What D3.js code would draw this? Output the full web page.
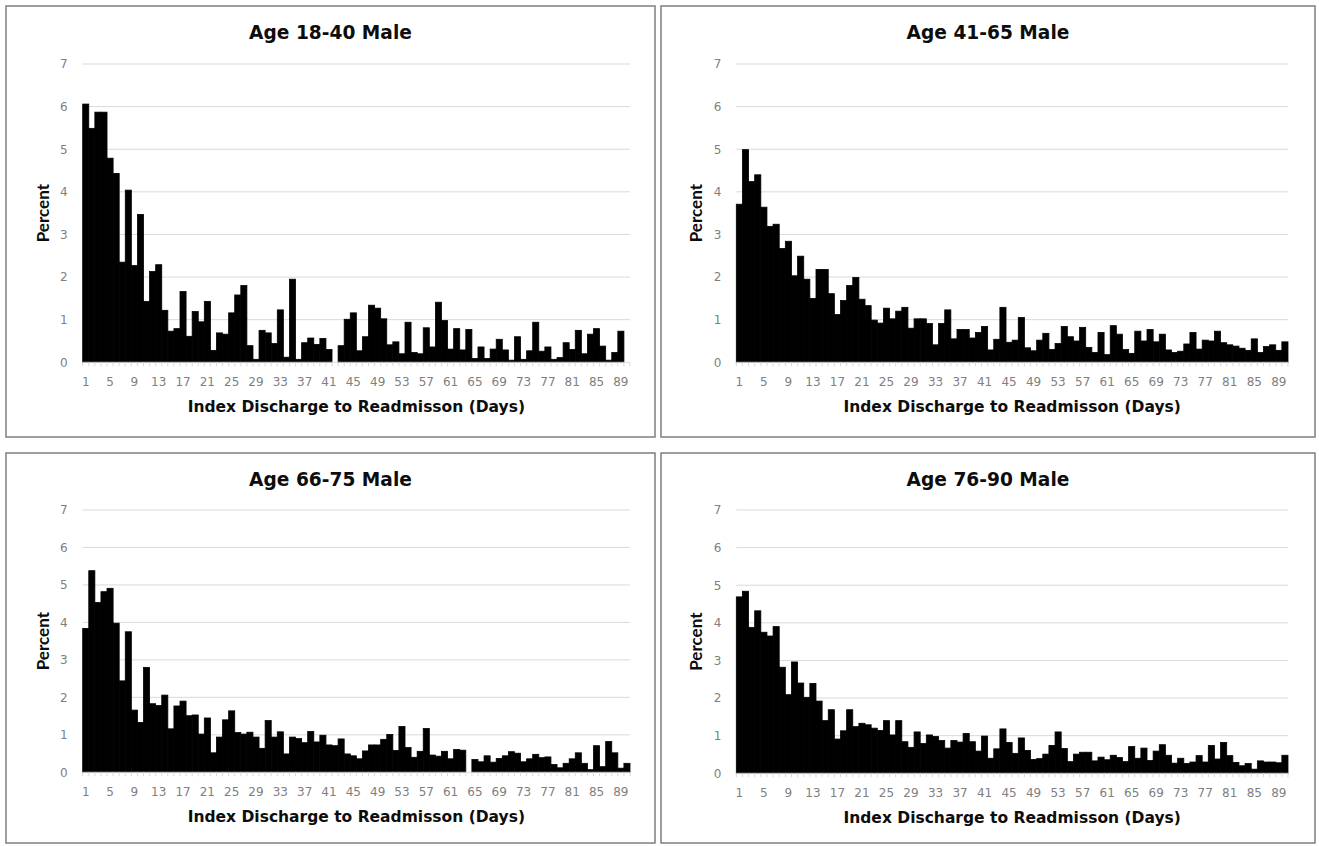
<!DOCTYPE html>
<html>
<head>
<meta charset="utf-8">
<script src="https://cdn.jsdelivr.net/npm/d3@7"></script>
<style>
  body { margin: 0; background: #fff; }
  svg { display: block; font-family: "DejaVu Sans", sans-serif; }
</style>
</head>
<body>
<svg id="chart" width="1319" height="846"></svg>
<script>
// days since index discharge (x categories)
const days = [
  1, 2, 3, 4, 5, 6, 7, 8, 9, 10, 11, 12, 13, 14, 15, 16, 17, 18, 19, 20,
  21, 22, 23, 24, 25, 26, 27, 28, 29, 30, 31, 32, 33, 34, 35, 36, 37, 38, 39, 40,
  41, 42, 43, 44, 45, 46, 47, 48, 49, 50, 51, 52, 53, 54, 55, 56, 57, 58, 59, 60,
  61, 62, 63, 64, 65, 66, 67, 68, 69, 70, 71, 72, 73, 74, 75, 76, 77, 78, 79, 80,
  81, 82, 83, 84, 85, 86, 87, 88, 89, 90
];
const dayLabels = [1, 5, 9, 13, 17, 21, 25, 29, 33, 37, 41, 45, 49, 53, 57, 61, 65, 69, 73, 77, 81, 85, 89];
const percentTicks = [0, 1, 2, 3, 4, 5, 6, 7];

const titles = ["Age 18-40 Male", "Age 41-65 Male", "Age 66-75 Male", "Age 76-90 Male"];

// percent of readmissions per day
const male18to40 = [
  6.06, 5.49, 5.87, 5.87, 4.79, 4.43, 2.35, 4.04, 2.27, 3.47,
  1.43, 2.13, 2.29, 1.22, 0.73, 0.79, 1.66, 0.61, 1.19, 0.95,
  1.43, 0.28, 0.69, 0.66, 1.16, 1.58, 1.80, 0.39, 0.07, 0.75,
  0.69, 0.44, 1.23, 0.12, 1.95, 0.07, 0.46, 0.57, 0.42, 0.56,
  0.30, 0, 0.39, 1.01, 1.16, 0.27, 0.60, 1.34, 1.27, 1.02,
  0.41, 0.48, 0.20, 0.94, 0.23, 0.20, 0.81, 0.36, 1.41, 0.98,
  0.31, 0.79, 0.29, 0.77, 0.09, 0.36, 0.09, 0.31, 0.54, 0.29,
  0.05, 0.60, 0.07, 0.27, 0.94, 0.26, 0.36, 0.07, 0.11, 0.46,
  0.30, 0.75, 0.20, 0.66, 0.79, 0.38, 0.05, 0.23, 0.73, 0
];
const male41to65 = [
  3.71, 4.99, 4.24, 4.40, 3.64, 3.19, 3.24, 2.67, 2.84, 2.03,
  2.49, 1.95, 1.50, 2.18, 2.18, 1.61, 1.12, 1.45, 1.80, 1.99,
  1.48, 1.33, 0.99, 0.92, 1.27, 1.02, 1.20, 1.29, 0.80, 1.02,
  1.02, 0.91, 0.41, 0.91, 1.23, 0.55, 0.77, 0.77, 0.57, 0.70,
  0.84, 0.29, 0.54, 1.29, 0.47, 0.52, 1.05, 0.34, 0.27, 0.52,
  0.68, 0.30, 0.44, 0.84, 0.60, 0.50, 0.82, 0.35, 0.23, 0.70,
  0.18, 0.86, 0.66, 0.30, 0.21, 0.73, 0.50, 0.77, 0.48, 0.66,
  0.29, 0.23, 0.26, 0.43, 0.70, 0.31, 0.52, 0.50, 0.73, 0.46,
  0.41, 0.38, 0.33, 0.28, 0.55, 0.23, 0.37, 0.41, 0.28, 0.48
];
const male66to75 = [
  3.84, 5.38, 4.53, 4.82, 4.91, 3.98, 2.44, 3.75, 1.66, 1.33,
  2.80, 1.83, 1.78, 2.06, 1.16, 1.77, 1.90, 1.51, 1.53, 1.02,
  1.45, 0.52, 0.94, 1.40, 1.64, 1.06, 1.02, 1.07, 0.94, 0.64,
  1.38, 0.94, 1.08, 0.49, 0.94, 0.90, 0.79, 1.09, 0.81, 0.99,
  0.73, 0.71, 0.89, 0.49, 0.44, 0.36, 0.57, 0.73, 0.73, 0.88,
  1.01, 0.58, 1.22, 0.66, 0.40, 0.56, 1.17, 0.46, 0.43, 0.56,
  0.36, 0.61, 0.59, 0, 0.34, 0.28, 0.44, 0.27, 0.37, 0.44,
  0.55, 0.51, 0.28, 0.36, 0.48, 0.39, 0.41, 0.21, 0.12, 0.24,
  0.36, 0.52, 0.24, 0.07, 0.71, 0.15, 0.82, 0.52, 0.11, 0.24
];
const male76to90 = [
  4.69, 4.84, 3.88, 4.32, 3.75, 3.65, 3.90, 2.82, 2.09, 2.96,
  2.40, 2.02, 2.39, 1.92, 1.40, 1.69, 0.91, 1.13, 1.69, 1.24,
  1.33, 1.29, 1.20, 1.14, 1.40, 1.02, 1.40, 0.84, 0.69, 1.10,
  0.79, 1.02, 0.98, 0.87, 0.67, 0.87, 0.83, 1.06, 0.84, 0.59,
  0.99, 0.40, 0.65, 1.18, 0.82, 0.53, 0.94, 0.61, 0.37, 0.39,
  0.51, 0.74, 1.10, 0.66, 0.31, 0.51, 0.56, 0.56, 0.33, 0.43,
  0.36, 0.48, 0.42, 0.31, 0.71, 0.40, 0.67, 0.34, 0.59, 0.76,
  0.48, 0.27, 0.40, 0.26, 0.30, 0.47, 0.30, 0.74, 0.38, 0.82,
  0.47, 0.29, 0.20, 0.26, 0.11, 0.33, 0.30, 0.30, 0.28, 0.48
];

const series = [male18to40, male41to65, male66to75, male76to90];

// panel frames and plot areas (page pixels)
const panels = [
  { box: [6, 6, 649, 431],     plot: [82.7, 630, 64, 362.3] },
  { box: [661, 6, 654, 431],   plot: [736.3, 1288, 64, 362.3] },
  { box: [6, 453, 649, 390],   plot: [82.7, 630, 510, 772.3] },
  { box: [661, 453, 654, 390], plot: [736.3, 1288, 510, 773.3] }
];

const svg = d3.select("#chart");

function drawPanel(svg, values, title, layout) {
  const [bx, by, bw, bh] = layout.box;
  const [left, right, top, bottom] = layout.plot;
  const g = svg.append("g").attr("class", "panel");

  // frame
  g.append("rect")
    .attr("x", bx).attr("y", by)
    .attr("width", bw).attr("height", bh)
    .attr("fill", "#fff")
    .attr("stroke", "#7f7f7f")
    .attr("stroke-width", 1.5);

  const x = d3.scaleBand().domain(days).range([left, right]).padding(0);
  const y = d3.scaleLinear().domain([0, 7]).range([bottom, top]);

  // horizontal gridlines
  g.append("g")
    .selectAll("line")
    .data(percentTicks.filter(t => t > 0))
    .join("line")
    .attr("x1", left).attr("x2", right)
    .attr("y1", d => y(d)).attr("y2", d => y(d))
    .attr("stroke", "#d9d9d9")
    .attr("stroke-width", 1);

  // y tick labels
  const yAxis = g.append("g")
    .attr("transform", `translate(${left - 15},0)`)
    .call(d3.axisLeft(y).tickValues(percentTicks).tickSize(0).tickPadding(0).tickFormat(d3.format("d")));
  yAxis.select(".domain").remove();
  yAxis.selectAll("text")
    .attr("fill", "#808080")
    .style("font-family", "'DejaVu Sans', sans-serif")
    .style("font-size", "12px");

  // bars (a hairline stroke closes the seams between neighbours)
  g.append("g")
    .selectAll("rect")
    .data(values.map((v, i) => ({ day: days[i], v: v })).filter(d => d.v > 0))
    .join("rect")
    .attr("x", d => x(d.day))
    .attr("y", d => y(d.v))
    .attr("width", x.bandwidth())
    .attr("height", d => y(0) - y(d.v))
    .attr("fill", "#000")
    .attr("stroke", "#000")
    .attr("stroke-width", 0.8);

  // category axis: baseline, small ticks between categories, labels every 4 days
  g.append("line")
    .attr("x1", left).attr("x2", right)
    .attr("y1", y(0)).attr("y2", y(0))
    .attr("stroke", "#d9d9d9");
  g.append("g")
    .selectAll("line")
    .data(days.concat([days.length + 1]))
    .join("line")
    .attr("x1", (d, i) => left + i * x.step())
    .attr("x2", (d, i) => left + i * x.step())
    .attr("y1", y(0)).attr("y2", y(0) + 4)
    .attr("stroke", "#d9d9d9");

  const xAxis = g.append("g")
    .attr("transform", `translate(0,${y(0) + 15.5})`)
    .call(d3.axisBottom(x).tickValues(dayLabels).tickSize(0).tickPadding(0));
  xAxis.select(".domain").remove();
  xAxis.selectAll("text")
    .attr("fill", "#808080")
    .style("font-family", "'DejaVu Sans', sans-serif")
    .style("font-size", "12px");

  // titles
  g.append("text")
    .attr("x", bx + bw / 2)
    .attr("y", by + 33)
    .attr("text-anchor", "middle")
    .style("font-size", "18.6px")
    .style("font-weight", "bold")
    .attr("fill", "#0d0d0d")
    .text(title);

  g.append("text")
    .attr("x", (left + right) / 2)
    .attr("y", bottom + 50)
    .attr("text-anchor", "middle")
    .style("font-size", "15.5px")
    .style("font-weight", "bold")
    .attr("fill", "#0d0d0d")
    .text("Index Discharge to Readmisson (Days)");

  g.append("text")
    .attr("transform", `translate(${left - 34},${(top + bottom) / 2}) rotate(-90)`)
    .attr("text-anchor", "middle")
    .style("font-family", "Lato, sans-serif")
    .style("font-size", "17px")
    .style("font-weight", "bold")
    .attr("fill", "#0d0d0d")
    .text("Percent");

  return g;
}

panels.forEach((p, i) => drawPanel(svg, series[i], titles[i], p));
</script>
</body>
</html>
